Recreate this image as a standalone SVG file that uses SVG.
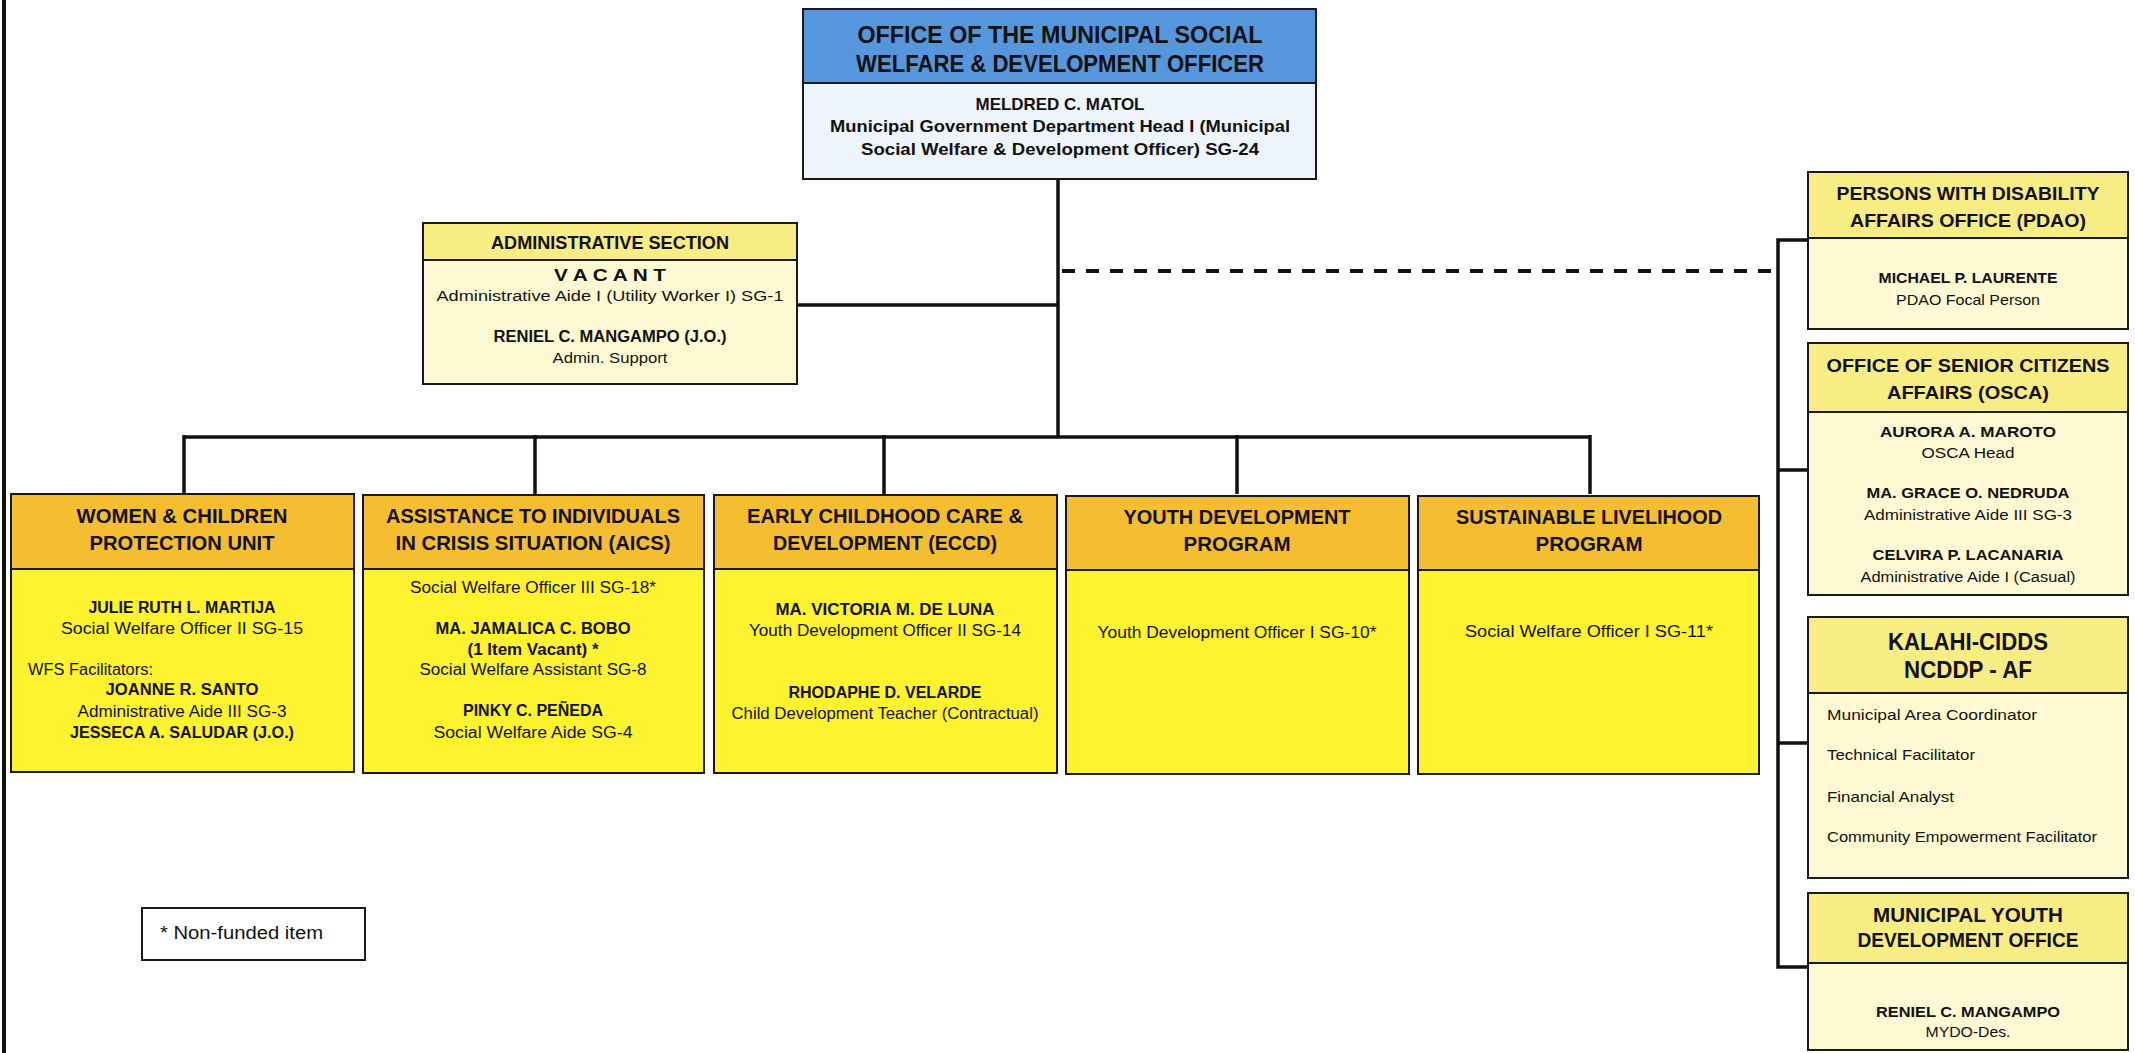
<svg xmlns="http://www.w3.org/2000/svg" width="2135" height="1053" viewBox="0 0 2135 1053">
  <style>
    text { font-family: "Liberation Sans", Arial, sans-serif; fill: #111; text-anchor: middle; }
    .box { stroke: #1a1a1a; stroke-width: 2; }
    .blue { fill: #5596DC; }
    .blue-body { fill: #EEF4FB; }
    .pale { fill: #F8EC84; }
    .pale-body { fill: #FEF9D2; }
    .gold { fill: #F5BD30; }
    .yellow { fill: #FFF22E; }
    .h-top { font-size: 24px; font-weight: bold; }
    .h { font-size: 20.5px; font-weight: bold; }
    .h-s { font-size: 18.5px; font-weight: bold; }
    .h-l { font-size: 23px; font-weight: bold; }
    .nm { font-size: 16px; font-weight: bold; }
    .rg { font-size: 16px; }
    .lt { text-anchor: start; }
    .wire { stroke: #111; stroke-width: 3.5; fill: none; }
    .dash { stroke: #111; stroke-width: 4; stroke-dasharray: 13 11; fill: none; }
  </style>

  <rect width="2135" height="1053" fill="#fff"/>
  <!-- page margin rule -->
  <line x1="4" y1="0" x2="4" y2="1053" stroke="#111" stroke-width="4"/>

  <g id="connectors">
    <line class="wire" x1="1058" y1="179" x2="1058" y2="437"/>
    <line class="wire" x1="797" y1="305" x2="1058" y2="305"/>
    <line class="dash" x1="1062" y1="271" x2="1778" y2="271"/>
    <line class="wire" x1="184" y1="437" x2="1590" y2="437"/>
    <line class="wire" x1="184" y1="435" x2="184" y2="494"/>
    <line class="wire" x1="535" y1="435" x2="535" y2="494"/>
    <line class="wire" x1="884" y1="435" x2="884" y2="494"/>
    <line class="wire" x1="1237" y1="435" x2="1237" y2="494"/>
    <line class="wire" x1="1590" y1="435" x2="1590" y2="494"/>
    <polyline class="wire" points="1808,240 1778,240 1778,967 1808,967"/>
    <line class="wire" x1="1778" y1="470" x2="1808" y2="470"/>
    <line class="wire" x1="1778" y1="743" x2="1808" y2="743"/>
  </g>

  <g id="mswdo">
    <rect class="box blue" x="803" y="9" width="513" height="74"/>
    <rect class="box blue-body" x="803" y="83" width="513" height="96"/>
    <text class="h-top" x="1060" y="43" textLength="405" lengthAdjust="spacingAndGlyphs">OFFICE OF THE MUNICIPAL SOCIAL</text>
    <text class="h-top" x="1060" y="72" textLength="408" lengthAdjust="spacingAndGlyphs">WELFARE &amp; DEVELOPMENT OFFICER</text>
    <text class="nm" style="font-size:17px" x="1060" y="110" textLength="169" lengthAdjust="spacingAndGlyphs">MELDRED C. MATOL</text>
    <text class="nm" style="font-size:17px" x="1060" y="132" textLength="460" lengthAdjust="spacingAndGlyphs">Municipal Government Department Head I (Municipal</text>
    <text class="nm" style="font-size:17px" x="1060" y="155" textLength="398" lengthAdjust="spacingAndGlyphs">Social Welfare &amp; Development Officer) SG-24</text>
  </g>

  <g id="admin">
    <rect class="box pale" x="423" y="223" width="374" height="37"/>
    <rect class="box pale-body" x="423" y="260" width="374" height="124"/>
    <text class="h-s" style="font-size:17.5px" x="610" y="249" textLength="238" lengthAdjust="spacingAndGlyphs">ADMINISTRATIVE SECTION</text>
    <text class="nm" x="610" y="281" textLength="112" lengthAdjust="spacingAndGlyphs">V A C A N T</text>
    <text class="rg" style="font-size:15.5px" x="610" y="301" textLength="347" lengthAdjust="spacingAndGlyphs">Administrative Aide I (Utility Worker I) SG-1</text>
    <text class="nm" x="610" y="342" textLength="233" lengthAdjust="spacingAndGlyphs">RENIEL C. MANGAMPO (J.O.)</text>
    <text class="rg" style="font-size:15.5px" x="610" y="363" textLength="115" lengthAdjust="spacingAndGlyphs">Admin. Support</text>
  </g>

  <g id="wcpu">
    <rect class="box gold" x="11" y="494" width="343" height="75"/>
    <rect class="box yellow" x="11" y="569" width="343" height="203"/>
    <text class="h" x="182" y="523" textLength="211" lengthAdjust="spacingAndGlyphs">WOMEN &amp; CHILDREN</text>
    <text class="h" x="182" y="550" textLength="185" lengthAdjust="spacingAndGlyphs">PROTECTION UNIT</text>
    <text class="nm" x="182" y="613" textLength="187" lengthAdjust="spacingAndGlyphs">JULIE RUTH L. MARTIJA</text>
    <text class="rg" x="182" y="634" textLength="242" lengthAdjust="spacingAndGlyphs">Social Welfare Officer II SG-15</text>
    <text class="rg lt" x="28" y="675" textLength="125" lengthAdjust="spacingAndGlyphs">WFS Facilitators:</text>
    <text class="nm" x="182" y="695" textLength="153" lengthAdjust="spacingAndGlyphs">JOANNE R. SANTO</text>
    <text class="rg" x="182" y="717" textLength="209" lengthAdjust="spacingAndGlyphs">Administrative Aide III SG-3</text>
    <text class="nm" x="182" y="738" textLength="224" lengthAdjust="spacingAndGlyphs">JESSECA A. SALUDAR (J.O.)</text>
  </g>

  <g id="aics">
    <rect class="box gold" x="363" y="495" width="341" height="74"/>
    <rect class="box yellow" x="363" y="569" width="341" height="204"/>
    <text class="h" x="533" y="523" textLength="294" lengthAdjust="spacingAndGlyphs">ASSISTANCE TO INDIVIDUALS</text>
    <text class="h" x="533" y="550" textLength="275" lengthAdjust="spacingAndGlyphs">IN CRISIS SITUATION (AICS)</text>
    <text class="rg" x="533" y="593" textLength="246" lengthAdjust="spacingAndGlyphs">Social Welfare Officer III SG-18*</text>
    <text class="nm" x="533" y="634" textLength="195" lengthAdjust="spacingAndGlyphs">MA. JAMALICA C. BOBO</text>
    <text class="nm" x="533" y="655" textLength="131" lengthAdjust="spacingAndGlyphs">(1 Item Vacant) *</text>
    <text class="rg" x="533" y="675" textLength="227" lengthAdjust="spacingAndGlyphs">Social Welfare Assistant SG-8</text>
    <text class="nm" x="533" y="716" textLength="140" lengthAdjust="spacingAndGlyphs">PINKY C. PEÑEDA</text>
    <text class="rg" x="533" y="738" textLength="199" lengthAdjust="spacingAndGlyphs">Social Welfare Aide SG-4</text>
  </g>

  <g id="eccd">
    <rect class="box gold" x="714" y="495" width="343" height="74"/>
    <rect class="box yellow" x="714" y="569" width="343" height="204"/>
    <text class="h" x="885" y="523" textLength="276" lengthAdjust="spacingAndGlyphs">EARLY CHILDHOOD CARE &amp;</text>
    <text class="h" x="885" y="550" textLength="224" lengthAdjust="spacingAndGlyphs">DEVELOPMENT (ECCD)</text>
    <text class="nm" x="885" y="615" textLength="219" lengthAdjust="spacingAndGlyphs">MA. VICTORIA M. DE LUNA</text>
    <text class="rg" x="885" y="636" textLength="272" lengthAdjust="spacingAndGlyphs">Youth Development Officer II SG-14</text>
    <text class="nm" x="885" y="698" textLength="193" lengthAdjust="spacingAndGlyphs">RHODAPHE D. VELARDE</text>
    <text class="rg" x="885" y="719" textLength="307" lengthAdjust="spacingAndGlyphs">Child Development Teacher (Contractual)</text>
  </g>

  <g id="ydp">
    <rect class="box gold" x="1066" y="496" width="343" height="74"/>
    <rect class="box yellow" x="1066" y="570" width="343" height="204"/>
    <text class="h" x="1237" y="524" textLength="227" lengthAdjust="spacingAndGlyphs">YOUTH DEVELOPMENT</text>
    <text class="h" x="1237" y="551" textLength="107" lengthAdjust="spacingAndGlyphs">PROGRAM</text>
    <text class="rg" x="1237" y="638" textLength="279" lengthAdjust="spacingAndGlyphs">Youth Development Officer I SG-10*</text>
  </g>

  <g id="slp">
    <rect class="box gold" x="1418" y="496" width="341" height="74"/>
    <rect class="box yellow" x="1418" y="570" width="341" height="204"/>
    <text class="h" x="1589" y="524" textLength="266" lengthAdjust="spacingAndGlyphs">SUSTAINABLE LIVELIHOOD</text>
    <text class="h" x="1589" y="551" textLength="107" lengthAdjust="spacingAndGlyphs">PROGRAM</text>
    <text class="rg" x="1589" y="637" textLength="248" lengthAdjust="spacingAndGlyphs">Social Welfare Officer I SG-11*</text>
  </g>

  <g id="pdao">
    <rect class="box pale" x="1808" y="172" width="320" height="66"/>
    <rect class="box pale-body" x="1808" y="238" width="320" height="91"/>
    <text class="h-s" x="1968" y="200" textLength="263" lengthAdjust="spacingAndGlyphs">PERSONS WITH DISABILITY</text>
    <text class="h-s" x="1968" y="227" textLength="236" lengthAdjust="spacingAndGlyphs">AFFAIRS OFFICE (PDAO)</text>
    <text class="nm" style="font-size:15.5px" x="1968" y="283" textLength="179" lengthAdjust="spacingAndGlyphs">MICHAEL P. LAURENTE</text>
    <text class="rg" style="font-size:15.5px" x="1968" y="305" textLength="144" lengthAdjust="spacingAndGlyphs">PDAO Focal Person</text>
  </g>

  <g id="osca">
    <rect class="box pale" x="1808" y="343" width="320" height="69"/>
    <rect class="box pale-body" x="1808" y="412" width="320" height="183"/>
    <text class="h-s" x="1968" y="372" textLength="283" lengthAdjust="spacingAndGlyphs">OFFICE OF SENIOR CITIZENS</text>
    <text class="h-s" x="1968" y="399" textLength="162" lengthAdjust="spacingAndGlyphs">AFFAIRS (OSCA)</text>
    <text class="nm" style="font-size:15.5px" x="1968" y="437" textLength="176" lengthAdjust="spacingAndGlyphs">AURORA A. MAROTO</text>
    <text class="rg" style="font-size:15.5px" x="1968" y="458" textLength="93" lengthAdjust="spacingAndGlyphs">OSCA Head</text>
    <text class="nm" style="font-size:15.5px" x="1968" y="498" textLength="203" lengthAdjust="spacingAndGlyphs">MA. GRACE O. NEDRUDA</text>
    <text class="rg" style="font-size:15.5px" x="1968" y="520" textLength="208" lengthAdjust="spacingAndGlyphs">Administrative Aide III SG-3</text>
    <text class="nm" style="font-size:15.5px" x="1968" y="560" textLength="191" lengthAdjust="spacingAndGlyphs">CELVIRA P. LACANARIA</text>
    <text class="rg" style="font-size:15.5px" x="1968" y="582" textLength="215" lengthAdjust="spacingAndGlyphs">Administrative Aide I (Casual)</text>
  </g>

  <g id="kalahi">
    <rect class="box pale" x="1808" y="617" width="320" height="76"/>
    <rect class="box pale-body" x="1808" y="693" width="320" height="185"/>
    <text class="h-l" x="1968" y="650" textLength="160" lengthAdjust="spacingAndGlyphs">KALAHI-CIDDS</text>
    <text class="h-l" x="1968" y="678" textLength="128" lengthAdjust="spacingAndGlyphs">NCDDP - AF</text>
    <text class="rg lt" style="font-size:15px" x="1827" y="720" textLength="210" lengthAdjust="spacingAndGlyphs">Municipal Area Coordinator</text>
    <text class="rg lt" style="font-size:15px" x="1827" y="760" textLength="148" lengthAdjust="spacingAndGlyphs">Technical Facilitator</text>
    <text class="rg lt" style="font-size:15px" x="1827" y="802" textLength="127" lengthAdjust="spacingAndGlyphs">Financial Analyst</text>
    <text class="rg lt" style="font-size:15px" x="1827" y="842" textLength="270" lengthAdjust="spacingAndGlyphs">Community Empowerment Facilitator</text>
  </g>

  <g id="mydo">
    <rect class="box pale" x="1808" y="893" width="320" height="70"/>
    <rect class="box pale-body" x="1808" y="963" width="320" height="87"/>
    <text class="h" x="1968" y="922" textLength="190" lengthAdjust="spacingAndGlyphs">MUNICIPAL YOUTH</text>
    <text class="h" x="1968" y="947" textLength="221" lengthAdjust="spacingAndGlyphs">DEVELOPMENT OFFICE</text>
    <text class="nm" style="font-size:15.5px" x="1968" y="1017" textLength="184" lengthAdjust="spacingAndGlyphs">RENIEL C. MANGAMPO</text>
    <text class="rg" style="font-size:15.5px" x="1968" y="1037" textLength="85" lengthAdjust="spacingAndGlyphs">MYDO-Des.</text>
  </g>

  <g id="legend">
    <rect x="142" y="908" width="223" height="52" fill="#fff" stroke="#1a1a1a" stroke-width="2"/>
    <text class="lt" style="font-size:18px" x="160" y="939" textLength="163" lengthAdjust="spacingAndGlyphs">* Non-funded item</text>
  </g>
</svg>
